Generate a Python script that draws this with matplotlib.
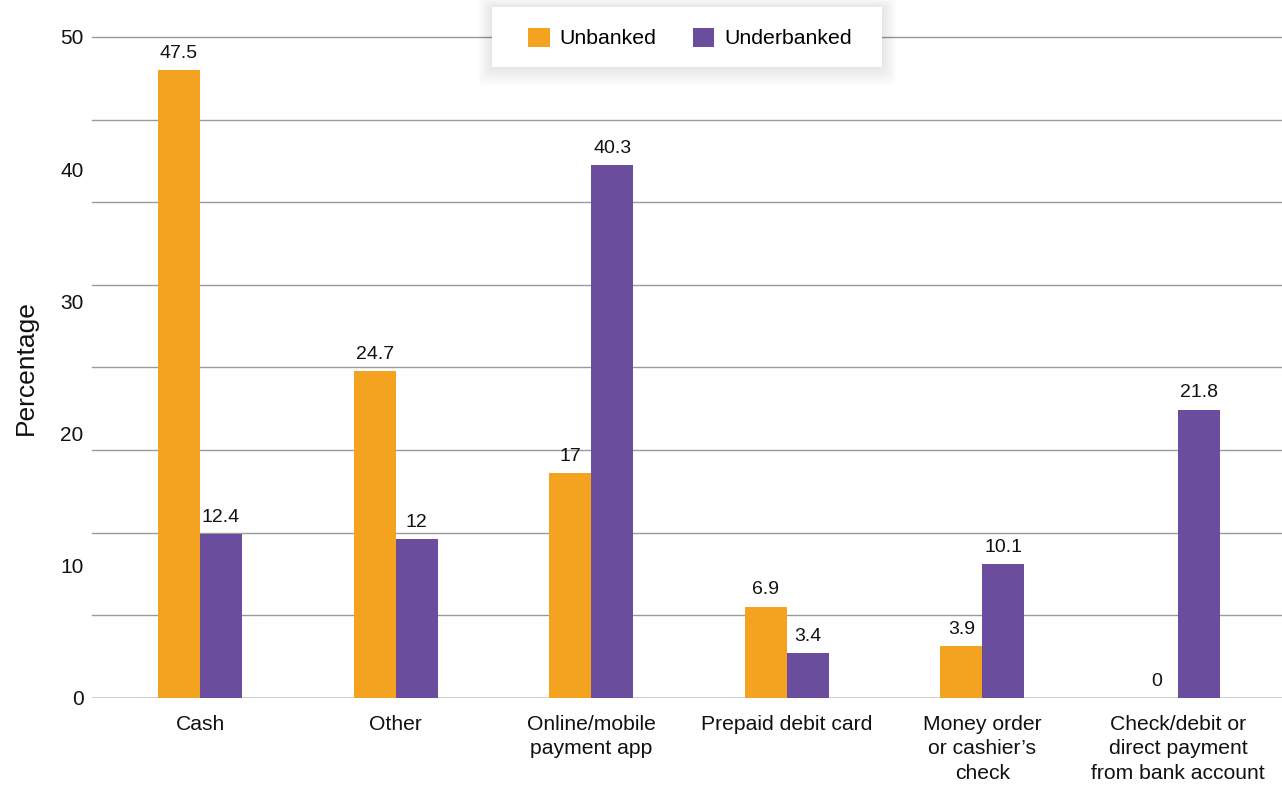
import numpy as np
import matplotlib.pyplot as plt
from matplotlib.patches import FancyBboxPatch
from matplotlib.ticker import MultipleLocator

plt.rcParams['font.family'] = ['Liberation Sans', 'DejaVu Sans']

# --- data ---
categories = ['Cash', 'Other', 'Online/mobile\npayment app', 'Prepaid debit card',
              'Money order\nor cashier\u2019s\ncheck',
              'Check/debit or\ndirect payment\nfrom bank account']
unbanked = [47.5, 24.7, 17, 6.9, 3.9, 0]
underbanked = [12.4, 12, 40.3, 3.4, 10.1, 21.8]

ORANGE = '#F4A321'
PURPLE = '#6A4E9D'
TXT = '#111111'

fig = plt.figure(figsize=(12.82, 7.87), dpi=100)
ax = fig.add_axes([0.0718, 0.1131, 0.9282, 0.8399])

x = np.arange(len(categories))
w = 0.215
b1 = ax.bar(x - w / 2, unbanked, w, color=ORANGE, label='Unbanked', zorder=3)
b2 = ax.bar(x + w / 2, underbanked, w, color=PURPLE, label='Underbanked', zorder=3)
ax.bar_label(b1, fmt='%g', padding=6, fontsize=14, color=TXT)
ax.bar_label(b2, fmt='%g', padding=6, fontsize=14, color=TXT)

ax.set_xlim(-0.552, 5.532)
ax.set_ylim(0, 50)

# labels every 10, grid lines every 6.25
ax.yaxis.set_major_locator(MultipleLocator(10))
for v in np.arange(6.25, 50.01, 6.25):
    ax.axhline(v, color='#9a9a9a', linewidth=1.0, zorder=0, clip_on=False)
ax.axhline(0, color='#cccccc', linewidth=2, zorder=2)
ax.tick_params(axis='y', length=0, labelsize=15, pad=6, labelcolor=TXT)

ax.set_xticks(x)
ax.set_xticklabels(categories, fontsize=15.2, color=TXT, linespacing=1.38, va='top')
ax.tick_params(axis='x', length=0, pad=12)

ax.set_ylabel('Percentage', fontsize=19, color=TXT, labelpad=16)

for s in ax.spines.values():
    s.set_visible(False)

# legend box with a soft shadow
leg = fig.legend(handles=[b1, b2], loc='center', bbox_to_anchor=(690 / 1282, 1 - 38 / 787),
                 ncol=2, frameon=False, fontsize=15.3, handlelength=1.0, handleheight=1.0,
                 columnspacing=1.75, handletextpad=0.45)
lx0, ly0 = 492 / 1282, 1 - 67 / 787
lw, lh = 390 / 1282, 60 / 787
for i in range(12, 0, -1):
    dx = i * 1.2 / 1282
    dy = i * 1.2 / 787
    fig.patches.append(FancyBboxPatch((lx0 - dx, ly0 - dy * 1.3), lw + 2 * dx, lh + 2 * dy,
                                      boxstyle='round,pad=0,rounding_size=0.006',
                                      transform=fig.transFigure, facecolor='black',
                                      edgecolor='none', alpha=0.009, zorder=1))
fig.patches.append(FancyBboxPatch((lx0, ly0), lw, lh, boxstyle='square,pad=0',
                                  transform=fig.transFigure, facecolor='white',
                                  edgecolor='none', zorder=2))
leg.set_zorder(5)

fig.savefig('out.png', dpi=100)
